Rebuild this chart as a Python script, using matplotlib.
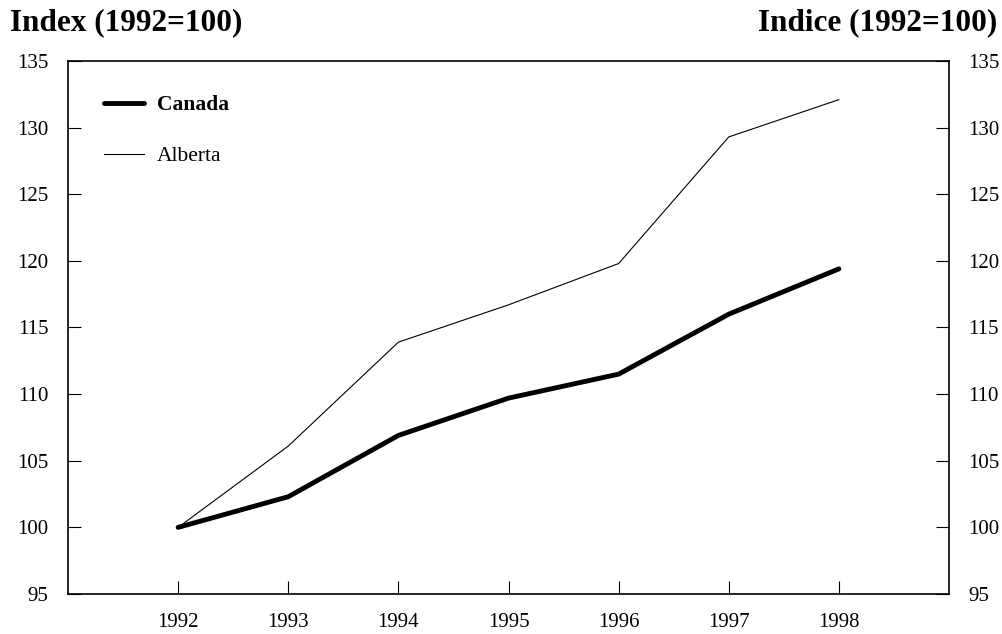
import matplotlib.pyplot as plt
from matplotlib.lines import Line2D

years = [1992, 1993, 1994, 1995, 1996, 1997, 1998]
canada = [100.0, 102.3, 106.9, 109.7, 111.5, 116.0, 119.4]
alberta = [100.0, 106.1, 113.9, 116.7, 119.8, 129.3, 132.1]
y_ticks = [95, 100, 105, 110, 115, 120, 125, 130, 135]

plt.rcParams['font.family'] = ['Liberation Serif', 'DejaVu Serif']

fig = plt.figure(figsize=(10.03, 6.34), dpi=100)
ax = fig.add_axes([68 / 1003, 40 / 634, (949 - 68) / 1003, (594 - 61) / 634])

ax.plot(years, alberta, color='black', linewidth=0.8)
ax.plot(years, canada, color='black', linewidth=3.5, solid_capstyle='round',
        solid_joinstyle='round')

ax.set_xlim(1991, 1999)
ax.set_ylim(95, 135)
ax.set_xticks(years)
ax.set_yticks(y_ticks)
ax.tick_params(axis='both', direction='in', length=9.5, width=0.8, labelsize=15,
               color='black')
ax.tick_params(axis='y', left=True, right=True, labelleft=True, labelright=True,
               pad=14)
ax.tick_params(axis='x', pad=14)
for s in ax.spines.values():
    s.set_linewidth(1.2)

handles = [Line2D([], [], color='black', linewidth=3.5, solid_capstyle='round'),
           Line2D([], [], color='black', linewidth=0.8)]
leg = ax.legend(handles, ['Canada', 'Alberta'], loc='upper left',
                bbox_to_anchor=(104 / 1003, 1 - 95 / 634),
                bbox_transform=fig.transFigure, borderpad=0, borderaxespad=0,
                frameon=False, fontsize=15.5, handlelength=1.85,
                labelspacing=1.45, handletextpad=0.6)
leg.get_texts()[0].set_fontweight('bold')

fig.text(10 / 1003, 1 - 30 / 634, 'Index (1992=100)', fontsize=22.5,
         fontweight='bold', ha='left', va='baseline')
fig.text(997 / 1003, 1 - 30 / 634, 'Indice (1992=100)', fontsize=22.5,
         fontweight='bold', ha='right', va='baseline')

fig.savefig('out.png', dpi=100)
